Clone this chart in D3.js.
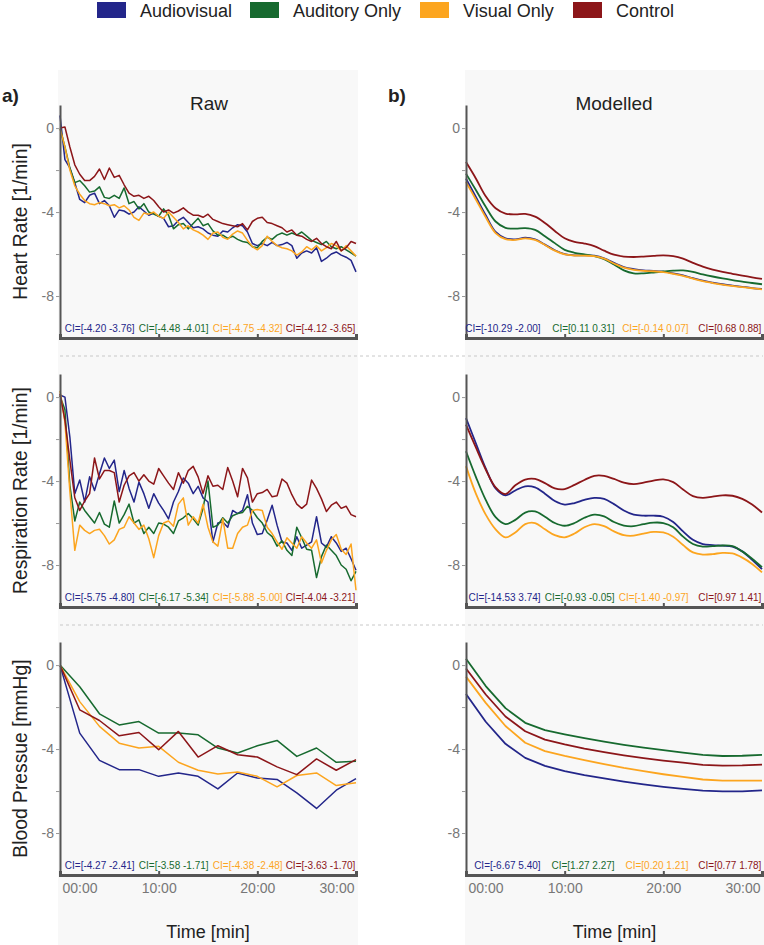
<!DOCTYPE html>
<html><head><meta charset="utf-8">
<script src="https://cdn.jsdelivr.net/npm/d3@7"></script>
<style>body{margin:0;background:#fff} svg{display:block;font-family:"Liberation Sans",Arial,Helvetica,sans-serif}</style>
</head><body><svg id="chart" width="764" height="945"></svg>
<script>
// ---------------- DATA ----------------
const groups = ["Audiovisual", "Auditory Only", "Visual Only", "Control"];
const colors = ["#23268a", "#176a2f", "#fca51f", "#8c1619"];
const rowLabels = ["Heart Rate [1/min]", "Respiration Rate [1/min]", "Blood Pressue [mmHg]"];
const colTitles = ["Raw", "Modelled"];
const panelTags = ["a)", "b)"];
const yTickValues = [0, -2, -4, -6, -8];
const yTickLabels = [0, -4, -8];
const xTickValues = [0, 10, 20, 30];
const xTickLabels = ["00:00", "10:00", "20:00", "30:00"];
const xTitle = "Time [min]";

const rawTime = [0,0.5,1,1.5,2,2.5,3,3.5,4,4.5,5,5.5,6,6.5,7,7.5,8,8.5,9,9.5,10,10.5,11,11.5,12,12.5,13,13.5,14,14.5,15,15.5,16,16.5,17,17.5,18,18.5,19,19.5,20,20.5,21,21.5,22,22.5,23,23.5,24,24.5,25,25.5,26,26.5,27,27.5,28,28.5,29,29.5,30];
const modelTime = [0,1,2,3,4,5,6,7,8,9,10,11,12,13,14,15,16,17,18,19,20,21,22,23,24,25,26,27,28,29,30];
const bpTime = [0,2,4,6,8,10,12,14,16,18,20,22,24,26,28,30];

// Raw heart rate (Audiovisual, Auditory Only, Visual Only, Control)
const hrRawAV = [0.6,-1.5,-1.9,-2.6,-3.4,-3.55,-3.2,-3.1,-3.6,-3.45,-3.7,-4.25,-3.9,-3.95,-4.1,-4.0,-3.75,-3.95,-4.15,-4.05,-4.2,-4.3,-4.7,-4.65,-4.4,-4.25,-4.5,-4.75,-4.7,-4.8,-5.0,-5.1,-5.15,-4.9,-4.95,-4.75,-4.6,-4.65,-4.95,-5.5,-5.6,-5.5,-5.6,-5.45,-5.6,-5.55,-5.45,-5.6,-6.2,-5.95,-5.85,-5.95,-5.7,-6.35,-6.2,-6.0,-5.9,-6.05,-6.15,-6.3,-6.85];
const hrRawA = [0,-0.9,-1.9,-2.6,-2.5,-2.75,-3.05,-3.0,-2.8,-3.3,-3.35,-3.2,-3.35,-2.85,-3.6,-3.5,-3.85,-3.6,-4.0,-4.1,-4.2,-3.85,-4.15,-4.8,-4.6,-4.55,-4.8,-4.55,-4.3,-4.65,-4.55,-4.9,-5.1,-5.1,-5.25,-5.15,-5.3,-5.4,-5.45,-5.65,-5.7,-5.4,-5.2,-5.3,-5.1,-5.0,-5.1,-5.0,-5.1,-4.95,-5.15,-5.35,-5.45,-5.55,-5.4,-5.65,-5.75,-5.65,-5.8,-5.95,-6.1];
const hrRawV = [0,-0.9,-2.0,-2.75,-3.15,-3.45,-3.6,-3.65,-3.55,-3.6,-3.7,-3.65,-3.8,-3.7,-3.9,-4.25,-4.4,-4.05,-4.1,-4.0,-4.2,-4.3,-4.0,-4.25,-4.5,-4.8,-4.65,-4.85,-4.95,-5.1,-5.3,-5.0,-4.95,-5.2,-5.3,-5.05,-4.9,-5.0,-5.35,-5.65,-5.8,-5.6,-5.15,-5.4,-5.6,-5.7,-5.75,-5.85,-6.05,-5.9,-5.65,-5.8,-5.6,-5.85,-5.7,-5.5,-5.6,-5.85,-5.6,-5.85,-6.1];
const hrRawC = [0,0.05,-0.9,-1.75,-2.2,-2.5,-2.5,-2.3,-1.95,-2.45,-1.9,-2.35,-2.25,-2.7,-3.1,-3.25,-3.2,-3.35,-3.25,-3.45,-3.75,-4.0,-3.9,-4.05,-3.95,-3.8,-4.0,-4.15,-4.15,-4.25,-4.1,-4.35,-4.45,-4.55,-4.6,-4.65,-4.7,-4.55,-4.85,-4.45,-4.3,-4.25,-4.5,-4.55,-4.65,-4.75,-4.95,-4.85,-5.1,-5.15,-5.3,-5.4,-5.25,-5.5,-5.65,-5.75,-5.4,-5.85,-5.7,-5.4,-5.5];

// Raw respiration rate
const rrRawAV = [0.1,0.0,-1.9,-4.6,-3.95,-5.0,-3.8,-4.45,-3.65,-2.9,-3.4,-3.0,-4.5,-3.5,-4.35,-5.0,-4.05,-4.6,-5.3,-4.6,-5.05,-5.4,-5.8,-5.0,-4.5,-3.85,-4.1,-4.6,-4.25,-4.8,-5.0,-6.9,-6.0,-5.95,-6.2,-5.4,-5.55,-5.4,-4.65,-6.0,-6.55,-6.5,-5.85,-5.15,-6.1,-6.9,-6.95,-7.3,-6.65,-7.2,-7.05,-6.9,-5.7,-6.95,-7.15,-6.65,-6.95,-7.35,-7.2,-7.7,-8.25];
const rrRawA = [0.05,-0.6,-4.2,-5.9,-5.0,-5.4,-5.7,-6.0,-5.5,-6.05,-6.2,-4.95,-6.0,-5.6,-5.1,-6.0,-5.85,-6.5,-6.2,-6.5,-6.0,-6.05,-6.2,-6.5,-5.9,-5.75,-5.55,-5.8,-6.1,-5.3,-4.0,-6.2,-6.1,-5.75,-6.0,-5.65,-5.55,-5.5,-5.2,-5.4,-5.75,-6.0,-6.45,-6.65,-7.1,-6.85,-7.3,-7.55,-6.2,-6.7,-7.25,-7.3,-8.6,-7.6,-7.05,-7.3,-7.55,-8.0,-8.2,-8.75,-8.3];
const rrRawV = [0.3,-1.2,-4.5,-7.3,-6.1,-6.35,-6.5,-6.35,-6.3,-6.6,-7.0,-6.8,-6.3,-6.2,-5.7,-6.0,-6.3,-6.1,-6.75,-7.65,-6.6,-6.0,-5.9,-6.15,-5.1,-4.8,-6.1,-5.7,-6.0,-5.1,-6.2,-6.9,-7.1,-5.8,-7.2,-7.2,-6.5,-6.2,-6.1,-5.4,-5.35,-5.4,-6.2,-6.5,-6.9,-7.25,-6.7,-6.95,-7.2,-6.65,-6.95,-7.2,-6.8,-7.9,-7.3,-6.8,-6.55,-7.25,-7.5,-7.0,-9.2];
const rrRawC = [0.15,-1.1,-3.0,-4.8,-5.4,-4.95,-4.6,-2.9,-3.9,-3.5,-3.5,-3.6,-5.0,-4.2,-3.75,-3.6,-4.0,-3.7,-4.0,-4.15,-3.4,-3.75,-4.1,-4.4,-3.6,-4.1,-3.5,-3.3,-3.8,-4.6,-3.75,-4.25,-4.2,-4.4,-3.35,-4.0,-4.75,-3.4,-3.85,-5.0,-4.6,-4.55,-4.4,-4.75,-4.7,-3.9,-4.1,-4.65,-5.1,-5.3,-5.1,-3.95,-4.35,-4.85,-5.45,-5.15,-5.0,-5.3,-5.2,-5.6,-5.7];

// Raw blood pressure
const bpRawAV = [0,-3.24,-4.54,-4.98,-4.98,-5.3,-5.14,-5.3,-5.9,-5.14,-5.38,-5.45,-6.09,-6.83,-5.96,-5.41];
const bpRawA = [0,-1.03,-2.32,-2.85,-2.69,-3.24,-3.24,-3.32,-3.95,-4.19,-3.84,-3.59,-4.35,-3.95,-4.63,-4.58];
const bpRawV = [0,-1.74,-2.92,-3.72,-3.95,-3.87,-4.63,-5.01,-5.19,-5.09,-5.3,-5.8,-5.26,-5.14,-5.74,-5.61];
const bpRawC = [0,-2.13,-2.64,-3.37,-3.21,-4.03,-3.16,-4.38,-3.84,-4.27,-4.38,-4.85,-5.22,-4.47,-5.01,-4.5];

// Modelled heart rate
const hrModAV = [-2.41,-3.28,-4.15,-4.95,-5.25,-5.3,-5.22,-5.3,-5.55,-5.82,-6.0,-6.06,-6.06,-6.08,-6.2,-6.42,-6.62,-6.72,-6.78,-6.8,-6.84,-6.92,-7.02,-7.15,-7.27,-7.36,-7.44,-7.5,-7.56,-7.62,-7.66];
const hrModA = [-2.17,-2.95,-3.75,-4.45,-4.75,-4.79,-4.77,-4.85,-5.15,-5.48,-5.8,-5.94,-6.02,-6.1,-6.24,-6.5,-6.78,-6.92,-6.92,-6.88,-6.83,-6.79,-6.78,-6.85,-6.97,-7.07,-7.16,-7.24,-7.31,-7.38,-7.44];
const hrModV = [-2.57,-3.4,-4.25,-5.0,-5.29,-5.33,-5.25,-5.33,-5.57,-5.84,-6.02,-6.07,-6.08,-6.1,-6.22,-6.45,-6.65,-6.75,-6.8,-6.82,-6.86,-6.94,-7.04,-7.17,-7.29,-7.38,-7.46,-7.52,-7.58,-7.63,-7.68];
const hrModC = [-1.62,-2.4,-3.25,-3.82,-4.07,-4.11,-4.09,-4.22,-4.52,-4.9,-5.25,-5.42,-5.5,-5.62,-5.84,-6.03,-6.12,-6.14,-6.12,-6.09,-6.06,-6.1,-6.22,-6.42,-6.6,-6.74,-6.85,-6.94,-7.03,-7.11,-7.18];

// Modelled respiration rate
const rrModAV = [-1.0,-2.2,-3.4,-4.35,-4.68,-4.45,-4.25,-4.3,-4.6,-4.95,-5.12,-5.05,-4.9,-4.8,-4.85,-5.1,-5.4,-5.6,-5.65,-5.65,-5.7,-5.95,-6.4,-6.8,-7.0,-7.05,-7.08,-7.12,-7.35,-7.75,-8.2];
const rrModA = [-2.58,-3.8,-4.9,-5.72,-6.05,-5.85,-5.5,-5.45,-5.7,-6.0,-6.13,-6.0,-5.75,-5.6,-5.68,-5.95,-6.12,-6.15,-6.05,-5.98,-6.0,-6.2,-6.65,-7.0,-7.12,-7.1,-7.07,-7.1,-7.35,-7.7,-8.1];
const rrModV = [-3.29,-4.6,-5.6,-6.3,-6.68,-6.45,-6.05,-6.0,-6.3,-6.58,-6.68,-6.5,-6.2,-6.05,-6.15,-6.4,-6.58,-6.6,-6.5,-6.42,-6.45,-6.65,-7.05,-7.4,-7.5,-7.48,-7.42,-7.45,-7.65,-7.95,-8.35];
const rrModC = [-1.31,-2.4,-3.45,-4.3,-4.62,-4.2,-3.93,-3.9,-4.1,-4.35,-4.38,-4.18,-3.95,-3.75,-3.75,-3.9,-4.08,-4.15,-4.08,-3.98,-3.92,-4.05,-4.4,-4.72,-4.8,-4.74,-4.68,-4.7,-4.85,-5.12,-5.5];

// Modelled blood pressure
const bpModAV = [-1.38,-2.7,-3.75,-4.42,-4.8,-5.05,-5.24,-5.4,-5.55,-5.68,-5.8,-5.9,-5.98,-6.02,-6.02,-5.97];
const bpModA = [0.3,-1.0,-2.05,-2.75,-3.1,-3.3,-3.48,-3.65,-3.8,-3.93,-4.05,-4.17,-4.28,-4.33,-4.32,-4.28];
const bpModV = [-0.55,-1.8,-2.9,-3.7,-4.1,-4.33,-4.53,-4.72,-4.9,-5.05,-5.2,-5.33,-5.45,-5.5,-5.5,-5.5];
const bpModC = [-0.16,-1.4,-2.45,-3.15,-3.55,-3.78,-3.98,-4.15,-4.3,-4.43,-4.55,-4.65,-4.75,-4.79,-4.78,-4.74];

const ciRaw = [
  ["CI=[-4.20 -3.76]", "CI=[-4.48 -4.01]", "CI=[-4.75 -4.32]", "CI=[-4.12 -3.65]"],
  ["CI=[-5.75 -4.80]", "CI=[-6.17 -5.34]", "CI=[-5.88 -5.00]", "CI=[-4.04 -3.21]"],
  ["CI=[-4.27 -2.41]", "CI=[-3.58 -1.71]", "CI=[-4.38 -2.48]", "CI=[-3.63 -1.70]"]
];
const ciModel = [
  ["CI=[-10.29 -2.00]", "CI=[0.11 0.31]", "CI=[-0.14 0.07]", "CI=[0.68 0.88]"],
  ["CI=[-14.53 3.74]", "CI=[-0.93 -0.05]", "CI=[-1.40 -0.97]", "CI=[0.97 1.41]"],
  ["CI=[-6.67 5.40]", "CI=[1.27 2.27]", "CI=[0.20 1.21]", "CI=[0.77 1.78]"]
];

// ---------------- PANEL TABLE (built from arrays) ----------------
const panels = [
  [{time: rawTime, series: [hrRawAV, hrRawA, hrRawV, hrRawC], ci: ciRaw[0], curve: d3.curveLinear},
   {time: modelTime, series: [hrModAV, hrModA, hrModV, hrModC], ci: ciModel[0], curve: d3.curveCatmullRom}],
  [{time: rawTime, series: [rrRawAV, rrRawA, rrRawV, rrRawC], ci: ciRaw[1], curve: d3.curveLinear},
   {time: modelTime, series: [rrModAV, rrModA, rrModV, rrModC], ci: ciModel[1], curve: d3.curveCatmullRom}],
  [{time: bpTime, series: [bpRawAV, bpRawA, bpRawV, bpRawC], ci: ciRaw[2], curve: d3.curveLinear},
   {time: bpTime, series: [bpModAV, bpModA, bpModV, bpModC], ci: ciModel[2], curve: d3.curveLinear}]
];

// ---------------- LAYOUT ----------------
const svg = d3.select("#chart");
const cols = [{x0: 60, x1: 356, bg0: 58, bg1: 358, title: 209, tag: 2},
              {x0: 466, x1: 762, bg0: 465, bg1: 764, title: 614, tag: 388}];
const rowBottoms = [338, 607, 875];
const rowH = 233;
const ciAnchors = [0.252, 0.502, 0.752, 0.998];
const axisColor = "#555";

// backgrounds
cols.forEach(c => svg.append("rect").attr("x", c.bg0).attr("y", 70)
  .attr("width", c.bg1 - c.bg0).attr("height", 875).attr("fill", "#f8f8f8"));

// legend
const legendX = [97, 250, 420, 573];
groups.forEach((g, i) => {
  svg.append("rect").attr("x", legendX[i]).attr("y", 2).attr("width", 29).attr("height", 16).attr("fill", colors[i]);
  svg.append("text").attr("x", legendX[i] + 43).attr("y", 16.5).attr("font-size", 18).attr("fill", "#222").text(g);
});

// titles and tags
cols.forEach((c, j) => {
  svg.append("text").attr("x", c.title).attr("y", 110).attr("text-anchor", "middle")
    .attr("font-size", 19).attr("fill", "#222").text(colTitles[j]);
  svg.append("text").attr("x", c.tag).attr("y", 102).attr("font-size", 19)
    .attr("font-weight", "bold").attr("fill", "#222").text(panelTags[j]);
});

// separators
[356, 625].forEach(yy => svg.append("line").attr("x1", 60).attr("x2", 763).attr("y1", yy).attr("y2", yy)
  .attr("stroke", "#c8c8c8").attr("stroke-width", 1).attr("stroke-dasharray", "3,3"));

panels.forEach((row, r) => {
  const yb = rowBottoms[r];
  // row label
  svg.append("text").attr("transform", `translate(27,${yb - rowH / 2}) rotate(-90)`)
    .attr("text-anchor", "middle").attr("font-size", 19.3).attr("fill", "#222").text(rowLabels[r]);

  row.forEach((p, c) => {
    const col = cols[c];
    const x = d3.scaleLinear().domain([0, 30]).range([col.x0, col.x1]);
    const y = d3.scaleLinear().domain([-10, 1.1]).range([yb, yb - rowH]);
    const g = svg.append("g");

    // lines
    const line = d3.line().x(d => x(d[0])).y(d => y(d[1])).curve(p.curve);
    p.series.forEach((vals, k) => {
      g.append("path").datum(vals.map((v, i) => [p.time[i], v]))
        .attr("d", line).attr("fill", "none").attr("stroke", colors[k])
        .attr("stroke-width", c === 0 ? 1.5 : 1.8).attr("stroke-linejoin", "round");
    });

    // y axis
    const ya = g.append("g").attr("transform", `translate(${col.x0},0)`)
      .call(d3.axisLeft(y).tickValues(yTickValues).tickSize(4).tickSizeOuter(0).tickPadding(2)
        .tickFormat(d => yTickLabels.includes(d) ? String(d) : ""));
    ya.select(".domain").attr("stroke", axisColor).attr("stroke-width", 2);
    ya.selectAll(".tick line").attr("stroke", "#999").attr("stroke-width", 1);
    ya.selectAll(".tick text").attr("font-size", 14).attr("fill", "#777").attr("font-family", null);

    // x axis
    const xa = g.append("g").attr("transform", `translate(0,${yb})`)
      .call(d3.axisBottom(x).tickValues(xTickValues).tickSize(-4).tickSizeOuter(-4).tickPadding(8)
        .tickFormat((d, i) => r === 2 ? xTickLabels[i] : ""));
    xa.select(".domain").attr("stroke", axisColor).attr("stroke-width", 3);
    xa.selectAll(".tick line").attr("stroke", axisColor).attr("stroke-width", 2);
    xa.selectAll(".tick text").attr("font-size", 14).attr("fill", "#777").attr("font-family", null)
      .attr("text-anchor", (d, i) => i === 0 ? "start" : (i === xTickValues.length - 1 ? "end" : "middle"))
      .attr("dx", (d, i) => i === 0 ? 2 : (i === xTickValues.length - 1 ? -2 : 0));

    // CI labels
    p.ci.forEach((t, k) => {
      g.append("text").attr("x", col.x0 + (col.x1 - col.x0) * ciAnchors[k]).attr("y", yb - 6)
        .attr("text-anchor", "end").attr("font-size", 10).attr("fill", colors[k]).text(t);
    });

    if (r === 2) {
      svg.append("text").attr("x", (col.bg0 + col.bg1) / 2).attr("y", 938).attr("text-anchor", "middle")
        .attr("font-size", 18).attr("fill", "#222").text(xTitle);
    }
  });
});
</script></body></html>
